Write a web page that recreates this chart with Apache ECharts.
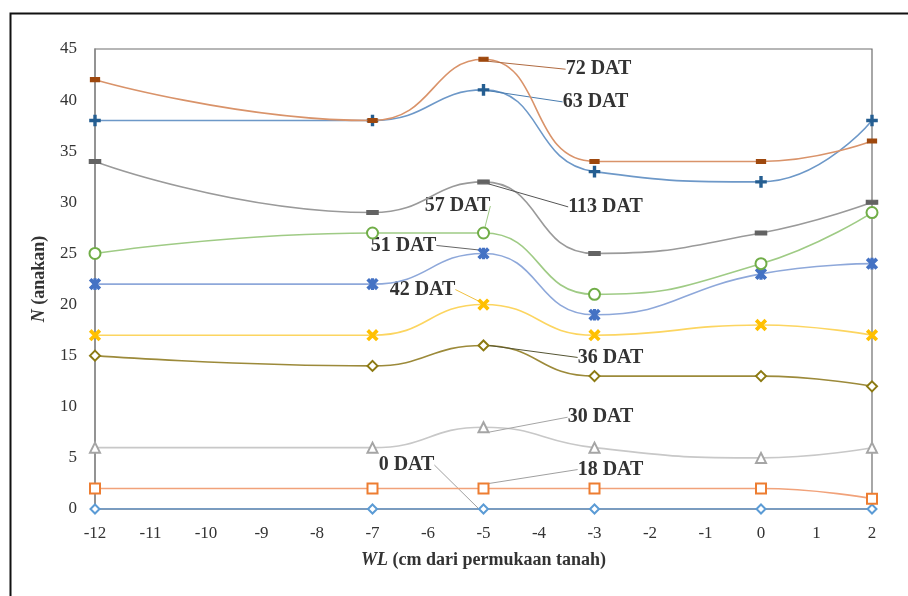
<!DOCTYPE html>
<html><head><meta charset="utf-8">
<script src="https://cdn.jsdelivr.net/npm/echarts@6/dist/echarts.min.js"></script>
<style>html,body{margin:0;padding:0;background:#fff}#c{width:908px;height:596px}</style>
</head><body><div id="c"></div>
<script>
// ---- data ----
const xValues = [-12, -7, -5, -3, 0, 2];
const seriesNames = ['0 DAT','18 DAT','30 DAT','36 DAT','42 DAT','51 DAT','57 DAT','113 DAT','63 DAT','72 DAT'];
const dat0   = [0, 0, 0, 0, 0, 0];
const dat18  = [2, 2, 2, 2, 2, 1];
const dat30  = [6, 6, 8, 6, 5, 6];
const dat36  = [15, 14, 16, 13, 13, 12];
const dat42  = [17, 17, 20, 17, 18, 17];
const dat51  = [22, 22, 25, 19, 23, 24];
const dat57  = [25, 27, 27, 21, 24, 29];
const dat113 = [34, 29, 32, 25, 27, 30];
const dat63  = [38, 38, 41, 33, 32, 38];
const dat72  = [42, 38, 44, 34, 34, 36];
const allValues = [dat0, dat18, dat30, dat36, dat42, dat51, dat57, dat113, dat63, dat72];
const labelIndex = 2; // labels attached at WL = -5

// ---- styles ----
const X_PATH = 'path://M0,1.5L1.5,0L5,3.5L8.5,0L10,1.5L6.5,5L10,8.5L8.5,10L5,6.5L1.5,10L0,8.5L3.5,5Z';
const PLUS_PATH = 'path://M4.1,0H5.9V4.1H10V5.9H5.9V10H4.1V5.9H0V4.1H4.1Z';
const AST_PATH = 'path://M0,1.5L1.5,0L5,3.5L8.5,0L10,1.5L6.5,5L10,8.5L8.5,10L5,6.5L1.5,10L0,8.5L3.5,5Z M4.2,0H5.8V10H4.2Z';
const styles = [
  {color:'#5B9BD5', line:'#6E9FD3', symbol:'emptyDiamond', size:9, lead:'#A0A0A0', dx:-77, dy:-44},
  {color:'#ED7D31', line:'#F1A27A', symbol:'emptyRect', size:10, lead:'#A0A0A0', dx:127, dy:-19},
  {color:'#A5A5A5', line:'#C8C8C8', symbol:'emptyTriangle', size:10, lead:'#A5A5A5', dx:117, dy:-10},
  {color:'#8C7A12', line:'#9C8A3A', symbol:'emptyDiamond', size:10, lead:'#555533', dx:127, dy:12},
  {color:'#FFC000', line:'#FCD560', symbol:X_PATH, size:10, lead:'#F0C040', dx:-61, dy:-15},
  {color:'#4472C4', line:'#8EA8DA', symbol:AST_PATH, size:10, lead:'#666666', dx:-80, dy:-8},
  {color:'#70AD47', line:'#9FCB85', symbol:'emptyCircle', size:11, lead:'#9FCB85', dx:-26, dy:-27},
  {color:'#636363', line:'#9A9A9A', symbol:'rect', size:[10,4], lead:'#555555', dx:122, dy:25},
  {color:'#255E91', line:'#6D98C8', symbol:PLUS_PATH, size:10, lead:'#4A7DB0', dx:112, dy:12},
  {color:'#9E480E', line:'#D9936A', symbol:'rect', size:[8,4], lead:'#B06A40', dx:115, dy:10}
];

const series = seriesNames.map((name, si) => {
  const st = styles[si];
  const vals = allValues[si];
  return {
    name: name,
    type: 'line',
    smooth: 0.5,
    symbol: st.symbol,
    symbolSize: st.size,
    lineStyle: {color: st.line, width: 1.6},
    itemStyle: {color: st.color, borderColor: st.color, borderWidth: 1.6},
    z: 2 + si,
    data: xValues.map((x, i) => {
      const item = {value: [x, vals[i]]};
      if (i === labelIndex) {
        item.label = {show: true};
      }
      return item;
    }),
    label: {
      show: false,
      position: 'inside',
      formatter: name,
      fontFamily: 'Liberation Serif',
      fontWeight: 'bold',
      fontSize: 20,
      color: '#333333'
    },
    labelLine: {show: true, lineStyle: {color: st.lead, width: 1}},
    labelLayout: {dx: st.dx, dy: st.dy},
    emphasis: {disabled: true}
  };
});

const chart = echarts.init(document.getElementById('c'), null, {renderer: 'canvas'});
chart.setOption({
  backgroundColor: '#ffffff',
  animation: false,
  graphic: [{
    type: 'rect', left: 8, top: 11, silent: true,
    shape: {width: 920, height: 620},
    style: {fill: 'none', stroke: '#111', lineWidth: 2}
  }],
  grid: {left: 95, right: 36, top: 49, bottom: 87, show: true, borderColor: '#6E6E6E', borderWidth: 1.2},
  xAxis: {
    type: 'value', min: -12, max: 2, interval: 1,
    axisLine: {onZero: false, lineStyle: {color: '#8C8C8C', width: 1.5}},
    axisTick: {show: false},
    splitLine: {show: false},
    axisLabel: {fontFamily: 'Liberation Serif', fontSize: 17, color: '#333', margin: 16},
    name: '{i|WL} (cm dari permukaan tanah)',
    nameLocation: 'middle', nameGap: 42,
    nameTextStyle: {
      fontFamily: 'Liberation Serif', fontWeight: 'bold', fontSize: 18, color: '#333',
      rich: {i: {fontFamily: 'Liberation Serif', fontWeight: 'bold', fontStyle: 'italic', fontSize: 18, color: '#333'}}
    }
  },
  yAxis: {
    type: 'value', min: 0, max: 45, interval: 5,
    axisLine: {show: true, onZero: false, lineStyle: {color: '#8C8C8C', width: 1.5}},
    axisTick: {show: false},
    splitLine: {show: false},
    axisLabel: {fontFamily: 'Liberation Serif', fontSize: 17, color: '#333', margin: 18},
    name: '{i|N} (anakan)',
    nameLocation: 'middle', nameGap: 47,
    nameTextStyle: {
      fontFamily: 'Liberation Serif', fontWeight: 'bold', fontSize: 18, color: '#333',
      rich: {i: {fontFamily: 'Liberation Serif', fontWeight: 'bold', fontStyle: 'italic', fontSize: 18, color: '#333'}}
    }
  },
  series: series
});
</script></body></html>
